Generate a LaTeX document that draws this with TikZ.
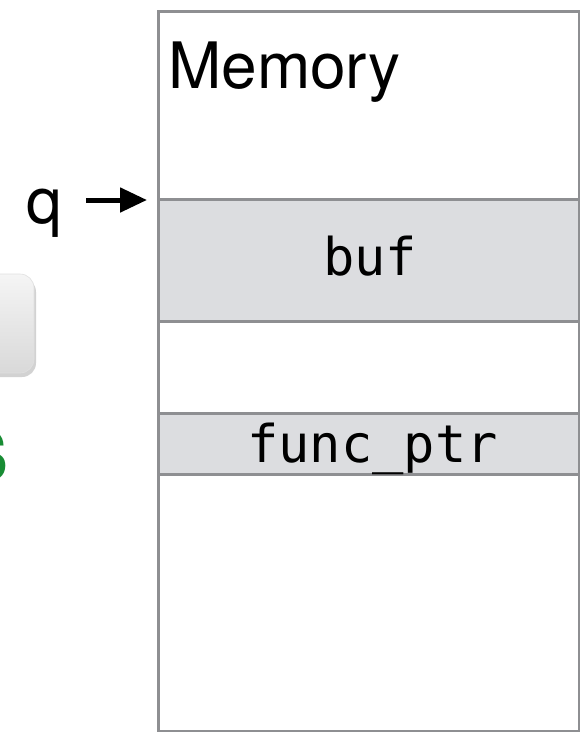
\documentclass[tikz,border=0pt]{standalone}
\usepackage{fontspec}
\setmainfont{TeX Gyre Heros}
\setmonofont{DejaVu Sans Mono}
\usetikzlibrary{arrows.meta}
\definecolor{cellfill}{HTML}{DCDDE0}
\definecolor{cellline}{HTML}{8E8F92}
\definecolor{okgreen}{RGB}{24,140,52}
\tikzset{
  membox/.style={draw=cellline, line width=3pt, fill=white},
  cell/.style={draw=cellline, line width=3pt, fill=cellfill},
  monolabel/.style={font=\ttfamily\fontsize{52}{52}\selectfont, inner sep=0pt, anchor=base},
  sanslabel/.style={font=\fontsize{64}{64}\selectfont, inner sep=0pt, anchor=base west},
  pointer/.style={line width=5pt, -{Triangle[length=27pt,width=24pt]}},
}
\begin{document}
\begin{tikzpicture}[x=1pt, y=-1pt]
  \useasboundingbox (0,0) rectangle (580,732);
  \fill[white] (0,0) rectangle (580,732);

  % button partly out of view on the left
  \fill[black!35, opacity=0.5, rounded corners=14pt] (-60,278) rectangle (36,377);
  \shade[rounded corners=14pt, top color=black!4, bottom color=black!15, draw=black!12, line width=0.6pt]
    (-60,274) rectangle (34,373);

  % green label partly out of view
  \node[font=\fontsize{70}{70}\bfseries\selectfont, text=okgreen, inner sep=0pt, anchor=base east] (flag) at (8.5,481) {S};

  % memory column
  \draw[membox] (158,11.5) rectangle (579.5,731);
  \node[sanslabel] (memory) at (168,88) {Memory};

  % memory cells
  \draw[cell] (158,199) rectangle (579.5,321);
  \node[monolabel] (buf) at (370,275) {buf};

  \draw[cell] (158,413) rectangle (579.5,474);
  \node[monolabel] (funcptr) at (372.5,462) {func\_ptr};

  % pointer q to the start of buf
  \node[sanslabel] (q) at (26,223) {q};
  \coordinate (qtail) at (86,200);
  \coordinate (qtip) at (147,200);
  \draw[pointer] (qtail) -- (qtip);
\end{tikzpicture}
\end{document}
